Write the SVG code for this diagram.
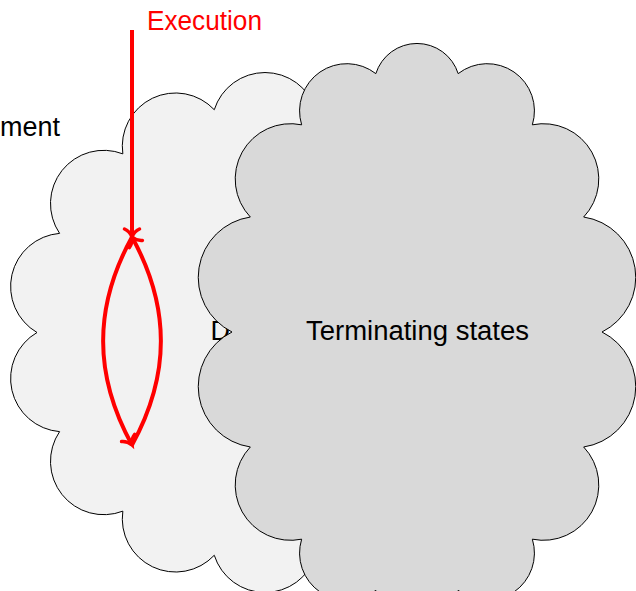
<svg xmlns="http://www.w3.org/2000/svg" width="636" height="591" viewBox="0 0 636 591">
  <style>
    .cloud { stroke: #000; stroke-width: 1; stroke-linejoin: miter; }
    .light { fill: #f2f2f2; }
    .dark { fill: #d9d9d9; }
    .label { font-family: "Liberation Sans", Arial, sans-serif; font-size: 27px; fill: #000; }
    .red-label { font-family: "Liberation Sans", Arial, sans-serif; font-size: 27px; fill: #ff0000; }
    .flow { fill: none; stroke: #ff0000; stroke-width: 4; }
  </style>
  <defs>
    <marker id="to" markerUnits="userSpaceOnUse" markerWidth="24" markerHeight="24" viewBox="-12 -12 24 24" refX="0" refY="0" orient="auto" overflow="visible">
      <path d="M-8,-7.5 C-6,-3 -2,-0.8 0,0 C-2,0.8 -6,3 -8,7.5" fill="none" stroke="#ff0000" stroke-width="3.5" stroke-linecap="round"/>
    </marker>
  </defs>

  <rect width="636" height="591" fill="#ffffff"/>

  <text class="label" x="0" y="136" textLength="60" lengthAdjust="spacingAndGlyphs">ment</text>

  <!-- cloud with 14 puffs, centre (265,332.5) -->
  <g id="node-left">
    <path class="cloud light" d="M493,332.5
      A53.31,53.31 0 0 0 470.42,233.36
      A53.27,53.27 0 0 0 407.16,153.85
      A53.22,53.22 0 0 0 315.73,109.73
      A53.19,53.19 0 0 0 214.27,109.73
      A53.22,53.22 0 0 0 122.84,153.85
      A53.27,53.27 0 0 0 59.58,233.36
      A53.31,53.31 0 0 0 37,332.5
      A53.31,53.31 0 0 0 59.58,431.64
      A53.27,53.27 0 0 0 122.84,511.15
      A53.22,53.22 0 0 0 214.27,555.27
      A53.19,53.19 0 0 0 315.73,555.27
      A53.22,53.22 0 0 0 407.16,511.15
      A53.27,53.27 0 0 0 470.42,431.64
      A53.31,53.31 0 0 0 493,332.5 Z"/>
    <text class="label" x="210.5" y="339.5">D</text>
  </g>

  <!-- cloud with 14 puffs, centre (417,332) -->
  <g id="node-terminating">
    <path class="cloud dark" d="M602,332
      A61.04,61.04 0 0 0 583.68,217.02
      A55.33,55.33 0 0 0 532.35,124.82
      A47.25,47.25 0 0 0 458.17,73.64
      A43.17,43.17 0 0 0 375.83,73.64
      A47.25,47.25 0 0 0 301.65,124.82
      A55.33,55.33 0 0 0 250.32,217.02
      A61.04,61.04 0 0 0 232,332
      A61.04,61.04 0 0 0 250.32,446.98
      A55.33,55.33 0 0 0 301.65,539.18
      A47.25,47.25 0 0 0 375.83,590.36
      A43.17,43.17 0 0 0 458.17,590.36
      A47.25,47.25 0 0 0 532.35,539.18
      A55.33,55.33 0 0 0 583.68,446.98
      A61.04,61.04 0 0 0 602,332 Z"/>
    <text class="label" x="306" y="339.5" textLength="223" lengthAdjust="spacingAndGlyphs">Terminating states</text>
  </g>

  <g id="connectors">
    <text class="red-label" x="147" y="30" textLength="115" lengthAdjust="spacingAndGlyphs">Execution</text>
    <path class="flow" d="M132,30 L132,237" marker-end="url(#to)"/>
    <path class="flow" d="M132,237 C93.5,307 93.5,375 132,445" marker-end="url(#to)"/>
    <path class="flow" d="M132,445 C170.5,375 170.5,307 132,237" marker-end="url(#to)"/>
  </g>
</svg>
